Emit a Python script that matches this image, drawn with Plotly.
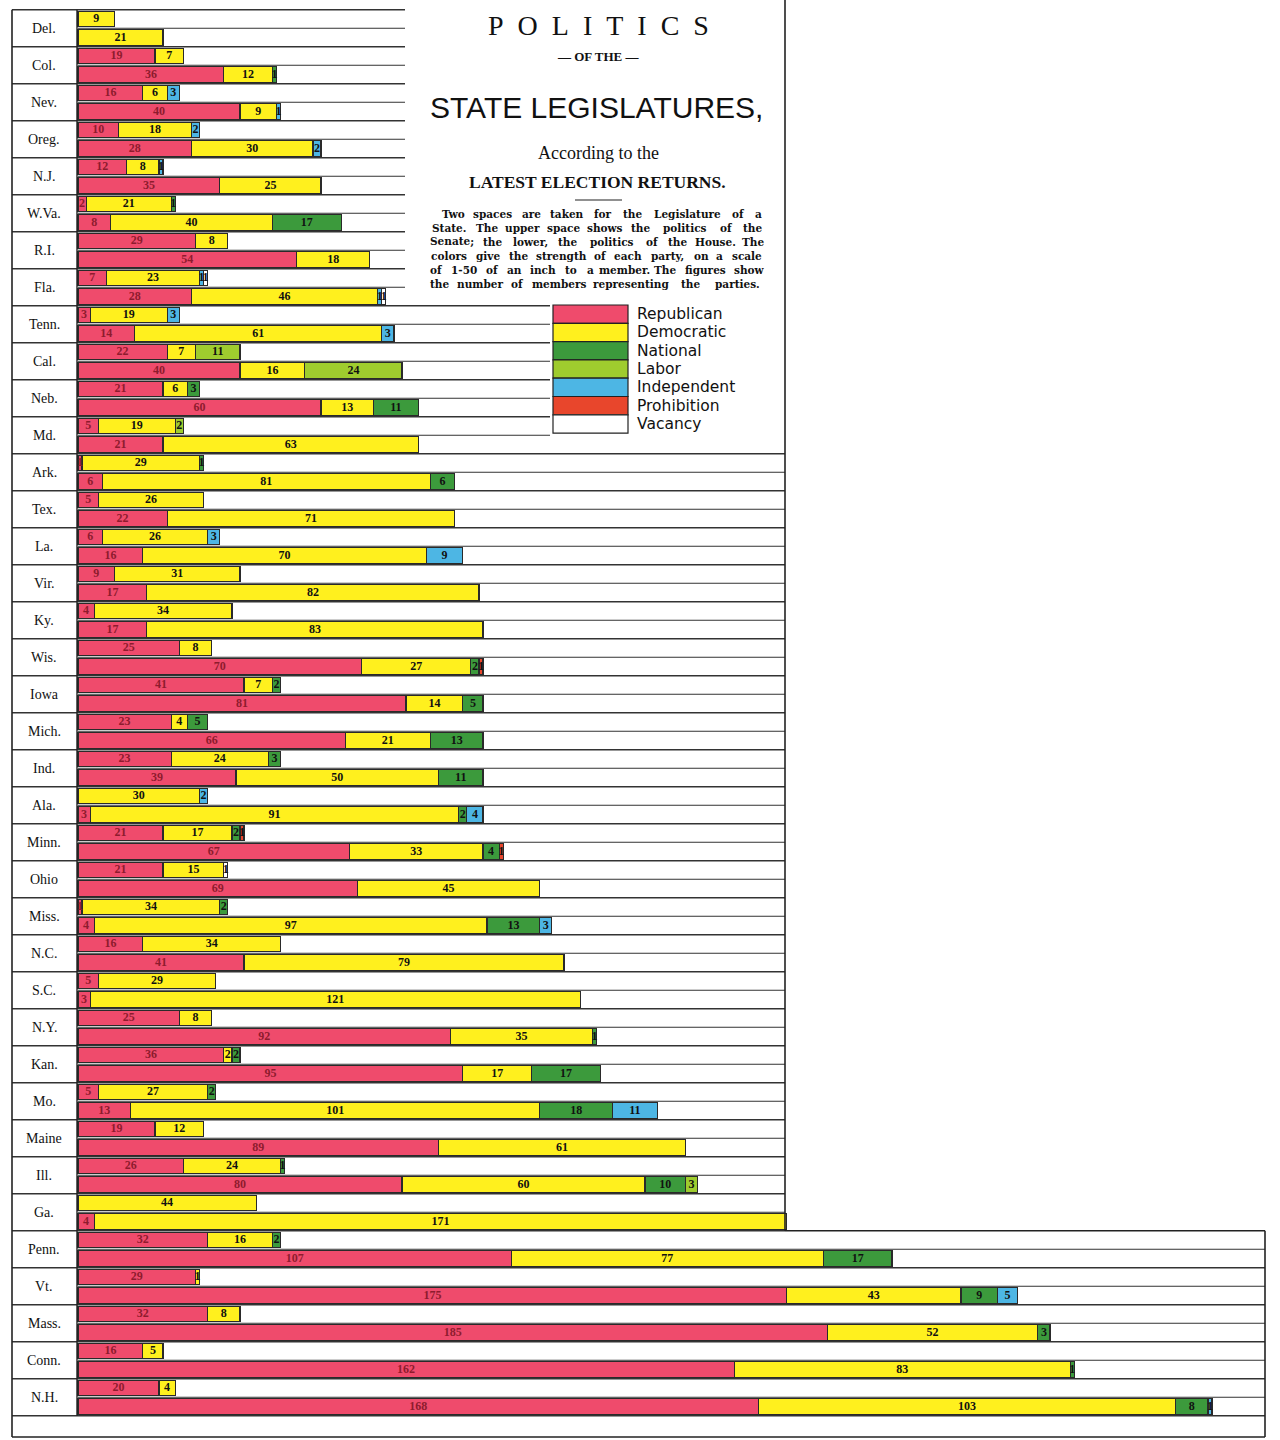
import plotly.graph_objects as go

# ---------------- DATA ----------------
states = ["Del.", "Col.", "Nev.", "Oreg.", "N.J.", "W.Va.", "R.I.", "Fla.", "Tenn.", "Cal.",
          "Neb.", "Md.", "Ark.", "Tex.", "La.", "Vir.", "Ky.", "Wis.", "Iowa", "Mich.",
          "Ind.", "Ala.", "Minn.", "Ohio", "Miss.", "N.C.", "S.C.", "N.Y.", "Kan.", "Mo.",
          "Maine", "Ill.", "Ga.", "Penn.", "Vt.", "Mass.", "Conn.", "N.H."]

republican_senate = [None, 19, 16, 10, 12, 2, 29, 7, 3, 22, 21, 5, 1, 5, 6, 9, 4, 25, 41, 23,
                     23, None, 21, 21, 1, 16, 5, 25, 36, 5, 19, 26, None, 32, 29, 32, 16, 20]
republican_house = [None, 36, 40, 28, 35, 8, 54, 28, 14, 40, 60, 21, 6, 22, 16, 17, 17, 70, 81, 66,
                    39, 3, 67, 69, 4, 41, 3, 92, 95, 13, 89, 80, 4, 107, 175, 185, 162, 168]
democratic_senate = [9, 7, 6, 18, 8, 21, 8, 23, 19, 7, 6, 19, 29, 26, 26, 31, 34, 8, 7, 4,
                     24, 30, 17, 15, 34, 34, 29, 8, 2, 27, 12, 24, 44, 16, 1, 8, 5, 4]
democratic_house = [21, 12, 9, 30, 25, 40, 18, 46, 61, 16, 13, 63, 81, 71, 70, 82, 83, 27, 14, 21,
                    50, 91, 33, 45, 97, 79, 121, 35, 17, 101, 61, 60, 171, 77, 43, 52, 83, 103]
national_senate = {"W.Va.": 1, "Neb.": 3, "Ark.": 1, "Iowa": 2, "Mich.": 5, "Ind.": 3, "Minn.": 2,
                   "Miss.": 2, "Kan.": 2, "Mo.": 2, "Ill.": 1, "Penn.": 2}
national_house = {"Col.": 1, "W.Va.": 17, "Neb.": 11, "Ark.": 6, "Wis.": 2, "Iowa": 5, "Mich.": 13,
                  "Ind.": 11, "Ala.": 2, "Minn.": 4, "Miss.": 13, "N.Y.": 1, "Kan.": 17, "Mo.": 18,
                  "Ill.": 10, "Penn.": 17, "Vt.": 9, "Mass.": 3, "Conn.": 1, "N.H.": 8}
labor_senate = {"Cal.": 11, "Md.": 2}
labor_house = {"Cal.": 24, "Ill.": 3}
independent_senate = {"Nev.": 3, "Oreg.": 2, "N.J.": 1, "Fla.": 1, "Tenn.": 3, "La.": 3, "Ala.": 2}
independent_house = {"Nev.": 1, "Oreg.": 2, "Fla.": 1, "Tenn.": 3, "La.": 9, "Ala.": 4, "Miss.": 3,
                     "Mo.": 11, "Vt.": 5, "N.H.": 1}
prohibition_senate = {"Minn.": 1}
prohibition_house = {"Wis.": 1, "Minn.": 1}
vacancy_senate = {"Fla.": 1, "Ohio": 1}
vacancy_house = {"Fla.": 1}

parties = ["Republican", "Democratic", "National", "Labor", "Independent", "Prohibition", "Vacancy"]
colors = ["#EF4B6C", "#FFF01E", "#3C9A3C", "#9FCC2E", "#4DB6E4", "#E8462C", "#FFFFFF"]
text_colors = ["#8E1B2E", "#111111", "#111111", "#111111", "#111111", "#111111", "#111111"]

# ---------------- LAYOUT GEOMETRY ----------------
W, H = 1280, 1440
PX = 4.05          # pixels per member
X0 = 78            # left edge of bars (px)
ROW0 = 19.0        # center of first row (px)
ROWH = 18.5        # row height (px)
SERIF = "Liberation Serif, DejaVu Serif, serif"


def to_list(d):
    return [d.get(s) for s in states]


senate = [republican_senate, democratic_senate, to_list(national_senate), to_list(labor_senate),
          to_list(independent_senate), to_list(prohibition_senate), to_list(vacancy_senate)]
house = [republican_house, democratic_house, to_list(national_house), to_list(labor_house),
         to_list(independent_house), to_list(prohibition_house), to_list(vacancy_house)]

fig = go.Figure()
rows = []
for i in range(len(states)):
    rows += [2 * i, 2 * i + 1]

row_vals = []   # per party, per row
for p in range(len(parties)):
    v = []
    for i in range(len(states)):
        v += [senate[p][i], house[p][i]]
    row_vals.append(v)

for p, name in enumerate(parties):
    fig.add_trace(go.Bar(
        orientation="h", y=rows, x=row_vals[p], name=name, width=0.84,
        marker=dict(color=colors[p], line=dict(color="#2a2a2a", width=1.2)),
        hoverinfo="skip", showlegend=False,
    ))

# segment labels, placed at the middle of each stacked segment
lx, ly, lt, lc = [], [], [], []
for r_idx, r in enumerate(rows):
    base = 0
    for p in range(len(parties)):
        v = row_vals[p][r_idx]
        if v:
            lx.append(base + v / 2)
            ly.append(r)
            lt.append(str(v))
            lc.append(text_colors[p])
            base += v
fig.add_trace(go.Scatter(
    x=lx, y=ly, text=lt, mode="text", textposition="middle center",
    textfont=dict(family=SERIF, size=12, color=lc, weight="bold"),
    hoverinfo="skip", showlegend=False, cliponaxis=False,
))


def px2x(px):
    return px / W


def py2y(py):
    return 1 - py / H


shapes = []


def line(x0, y0, x1, y1, width=1.0, color="#333", layer="below"):
    shapes.append(dict(type="line", xref="paper", yref="paper", x0=px2x(x0), x1=px2x(x1),
                       y0=py2y(y0), y1=py2y(y1), line=dict(color=color, width=width), layer=layer))


nrows = 2 * len(states)
step_k = 2 * states.index("Penn.")   # boundary where the frame widens
for k in range(nrows + 1):
    y = ROW0 + ROWH * (k - 0.5)
    left = 12 if k % 2 == 0 else X0
    if y < 290:
        right = 405
    elif y < 440:
        right = 550
    elif k <= step_k:
        right = 785
    else:
        right = 1265
    line(left, y, right, y, width=1.0 if k % 2 else 1.3)

top_y = ROW0 - ROWH * 0.5
step_y = ROW0 + ROWH * (step_k - 0.5)
bottom_y = 1437
line(12, top_y, 12, bottom_y, 1.6, "#222", "above")
line(X0 - 1, top_y, X0 - 1, ROW0 + ROWH * (nrows - 0.5), 1.4, "#222", "above")
line(785, 0, 785, step_y, 1.6, "#222", "above")
line(785, step_y, 1265, step_y, 1.6, "#222", "above")
line(1265, step_y, 1265, bottom_y, 1.6, "#222", "above")
line(12, bottom_y, 1265, bottom_y, 1.6, "#222", "above")

annotations = []
# state labels
for i, s in enumerate(states):
    yc = ROW0 + ROWH * (2 * i + 0.5)
    annotations.append(dict(x=px2x(44), y=py2y(yc), xref="paper", yref="paper", text=s,
                            showarrow=False, xanchor="center", yanchor="middle",
                            font=dict(family=SERIF, size=14, color="#111")))

# legend (custom, as in the original)
LX0, LX1, LY0, LH = 553, 628, 305, 18.3
for j, name in enumerate(parties):
    y0 = LY0 + j * LH
    shapes.append(dict(type="rect", xref="paper", yref="paper", x0=px2x(LX0), x1=px2x(LX1),
                       y0=py2y(y0), y1=py2y(y0 + LH), fillcolor=colors[j],
                       line=dict(color="#222", width=1.2), layer="above"))
    annotations.append(dict(x=px2x(635), y=py2y(y0 + LH / 2), xref="paper", yref="paper",
                            text=name, showarrow=False, xanchor="left", yanchor="middle",
                            font=dict(family="DejaVu Sans, sans-serif", size=15.5, color="#111")))


# title block
def title_text(text, x, y, size, family=SERIF, bold=False, anchor="center"):
    annotations.append(dict(x=px2x(x), y=py2y(y), xref="paper", yref="paper", text=text,
                            showarrow=False, xanchor=anchor, yanchor="middle",
                            font=dict(family=family, size=size, color="#111",
                                      weight="bold" if bold else "normal")))


title_text("\u2002".join("POLITICS"), 598, 25, 28)
title_text("\u2014 OF THE \u2014", 598, 57, 13, bold=True)
title_text("STATE LEGISLATURES,", 596, 108, 30, family="Liberation Sans, Arial, sans-serif")
title_text("According to the", 598, 153, 18)
title_text("LATEST ELECTION RETURNS.", 597, 182, 17.5, bold=True)
line(575, 200, 622, 200, 1.2, "#222", "above")

para = ["Two spaces are taken for the Legislature of a",
        "State. The upper space shows the politics of the",
        "Senate; the lower, the politics of the House. The",
        "colors give the strength of each party, on a scale",
        "of 1-50 of an inch to a member. The figures show",
        "the number of members representing the parties."]
PL, PR, CW = 430, 762, 6.2   # justified paragraph: left, right, approx char width
PFONT = "DejaVu Serif, Liberation Serif, serif"
for j, t in enumerate(para):
    words = t.split(" ")
    PLj = PL + 14 if j == 0 else PL
    chars = [len(w) for w in words]
    gap = (PR - PLj - sum(chars) * CW) / (len(words) - 1)
    xpos = PLj
    for w, c in zip(words, chars):
        title_text(w, xpos + c * CW / 2, 214 + j * 13.9, 10.5, family=PFONT, bold=True)
        xpos += c * CW + gap

fig.update_layout(
    width=W, height=H, margin=dict(l=0, r=0, t=0, b=0),
    paper_bgcolor="white", plot_bgcolor="white",
    barmode="stack",
    xaxis=dict(range=[(0 - X0) / PX, (W - X0) / PX], visible=False, fixedrange=True),
    yaxis=dict(range=[(H - ROW0) / ROWH, -ROW0 / ROWH], visible=False, fixedrange=True),
    shapes=shapes, annotations=annotations,
)

fig.write_html("out.html")
